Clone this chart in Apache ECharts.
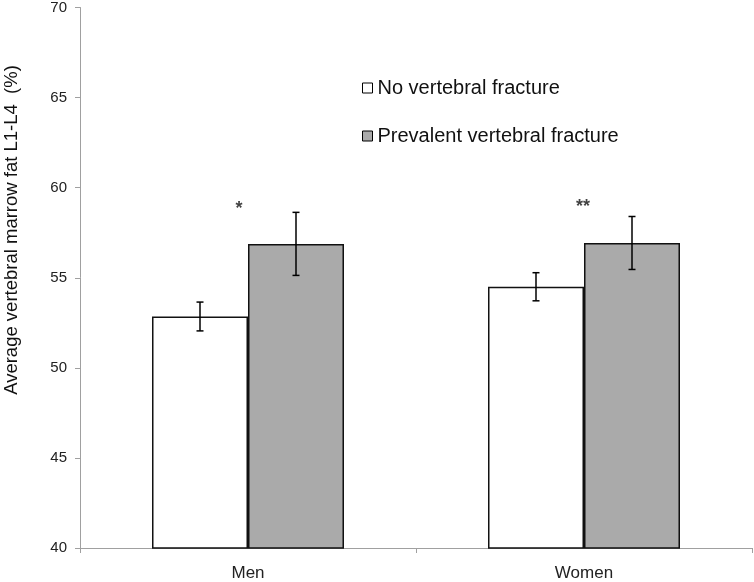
<!DOCTYPE html>
<html><head><meta charset="utf-8">
<script src="https://cdn.jsdelivr.net/npm/echarts@6/dist/echarts.min.js"></script>
<style>html,body{margin:0;padding:0;background:#fff}#c{width:754px;height:582px}</style>
</head><body><div id="c"></div>
<script>
const categories = ['Men', 'Women'];
const seriesNames = ['No vertebral fracture', 'Prevalent vertebral fracture'];
const noFracture = [52.85, 54.5];
const noFractureErr = [0.8, 0.78];
const prevalentFracture = [56.88, 56.93];
const prevalentFractureErr = [1.75, 1.47];
const significance = ['*', '**'];
const sigLevel = [58.8, 58.95];
const yTicks = [40, 45, 50, 55, 60, 65, 70];
const yAxisTitle = 'Average vertebral marrow fat L1-L4  (%)';

const FONT = '"Liberation Sans", Arial, sans-serif';
const barFrac = 2 / 7; // each bar's share of the category band

function errItem(vals, errs) {
  return categories.map((c, i) => [i, vals[i], errs[i]]);
}
function renderErr(side) {
  return function (params, api) {
    const i = api.value(0), v = api.value(1), e = api.value(2);
    const band = api.size([1, 0])[0];
    const cx = api.coord([i, v])[0] + side * band * barFrac / 2;
    const yt = api.coord([i, v + e])[1];
    const yb = api.coord([i, v - e])[1];
    const hw = 3.5;
    const st = { stroke: '#000', lineWidth: 1.5 };
    return { type: 'group', children: [
      { type: 'line', shape: { x1: cx, y1: yt, x2: cx, y2: yb }, style: st },
      { type: 'line', shape: { x1: cx - hw, y1: yt, x2: cx + hw, y2: yt }, style: st },
      { type: 'line', shape: { x1: cx - hw, y1: yb, x2: cx + hw, y2: yb }, style: st }
    ]};
  };
}

const chart = echarts.init(document.getElementById('c'));
chart.setOption({
  animation: false,
  backgroundColor: '#fff',
  grid: { left: 80, right: 2, top: 6, bottom: 34 },
  legend: {
    data: seriesNames,
    orient: 'vertical', left: 357, top: 73,
    itemWidth: 10, itemHeight: 10, itemGap: 28,
    icon: 'rect',
    textStyle: { fontSize: 20, color: '#111', fontFamily: FONT },
    itemStyle: { borderColor: '#000', borderWidth: 1 }
  },
  xAxis: {
    type: 'category', data: categories,
    axisLine: { lineStyle: { color: '#a0a0a0', width: 1 } },
    axisTick: { show: true, length: 5, lineStyle: { color: '#a0a0a0' } },
    axisLabel: { fontSize: 17, color: '#222', fontFamily: FONT, margin: 17 }
  },
  yAxis: {
    type: 'value', min: 40, max: 70, interval: 5,
    axisLine: { show: true, lineStyle: { color: '#a0a0a0', width: 1 } },
    axisTick: { show: true, length: 5, lineStyle: { color: '#a0a0a0' } },
    axisLabel: { fontSize: 15, color: '#222', fontFamily: FONT, margin: 13,
      formatter: v => yTicks.includes(v) ? String(v) : '' },
    splitLine: { show: false }
  },
  graphic: [{
    type: 'text', x: 12, y: 230, rotation: Math.PI / 2,
    style: { text: yAxisTitle, fontSize: 18.5, fill: '#111', fontFamily: FONT,
      align: 'center', verticalAlign: 'middle' }
  }],
  series: [
    { name: seriesNames[0], type: 'bar', data: noFracture,
      barGap: '0%', barCategoryGap: '42.86%',
      itemStyle: { color: '#ffffff', borderColor: '#111', borderWidth: 1.5 } },
    { name: seriesNames[1], type: 'bar', data: prevalentFracture,
      barGap: '0%', barCategoryGap: '42.86%',
      itemStyle: { color: '#aaaaaa', borderColor: '#111', borderWidth: 1.5 } },
    { type: 'custom', data: errItem(noFracture, noFractureErr), renderItem: renderErr(-1), z: 5 },
    { type: 'custom', data: errItem(prevalentFracture, prevalentFractureErr), renderItem: renderErr(1), z: 5 },
    { type: 'scatter', symbolSize: 0, silent: true,
      data: categories.map((c, i) => ({ value: [i, sigLevel[i]],
        label: { show: true, formatter: significance[i], position: 'inside',
          offset: [i === 0 ? -9 : -1, 0], fontSize: 18, color: '#111', fontFamily: FONT, fontWeight: 'bold' } })) }
  ]
});
</script></body></html>
